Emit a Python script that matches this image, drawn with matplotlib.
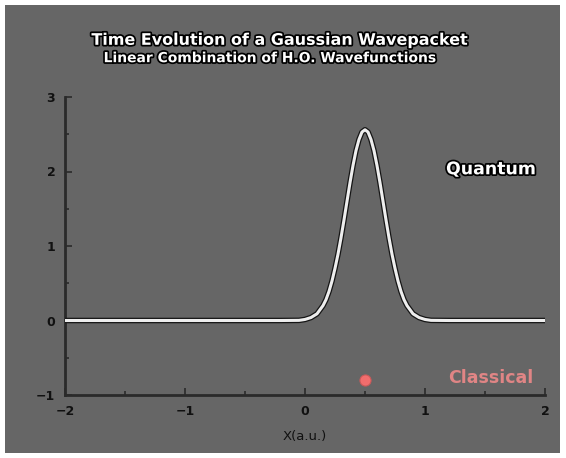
import matplotlib
matplotlib.use("Agg")
import matplotlib.pyplot as plt
import matplotlib.patheffects as pe
from matplotlib.patches import Rectangle

# ---------- Data ----------
x_pts = [-2.0, -0.2, -0.05, 0.0, 0.05, 0.1, 0.15, 0.175, 0.2, 0.225, 0.25,
         0.275, 0.3, 0.325, 0.35, 0.375, 0.4, 0.425, 0.45, 0.475, 0.5,
         0.525, 0.55, 0.575, 0.6, 0.625, 0.65, 0.675, 0.7, 0.725, 0.75,
         0.775, 0.8, 0.825, 0.85, 0.9, 0.95, 1.0, 1.05, 1.2, 2.0]
psi2 = [0.0, 0.0, 0.002, 0.014, 0.04, 0.09, 0.20, 0.28, 0.39, 0.53, 0.70,
        0.89, 1.11, 1.35, 1.60, 1.85, 2.08, 2.28, 2.43, 2.53, 2.56,
        2.53, 2.43, 2.28, 2.08, 1.85, 1.60, 1.35, 1.11, 0.89, 0.70,
        0.53, 0.39, 0.28, 0.20, 0.09, 0.04, 0.014, 0.002, 0.0, 0.0]

classical_x = [0.5]
classical_y = [-0.80]

x_ticks = [-2, -1, 0, 1, 2]
x_ticklabels = ["\u22122", "\u22121", "0", "1", "2"]
y_ticks = [-1, 0, 1, 2, 3]
y_ticklabels = ["\u22121", "0", "1", "2", "3"]

title = "Time Evolution of a Gaussian Wavepacket"
subtitle = "Linear Combination of H.O. Wavefunctions"

BG = "#666666"
DARK = "#2a2a2a"
outline = [pe.withStroke(linewidth=2.5, foreground="black")]

W, H = 566, 458
fig = plt.figure(figsize=(W / 100, H / 100), dpi=100)
fig.patch.set_facecolor("white")
fig.patches.append(Rectangle((5 / W, 5 / H), 555 / W, 448 / H,
                             transform=fig.transFigure, facecolor=BG,
                             edgecolor="none", zorder=-10))

ax = fig.add_axes([65 / W, 63 / H, 480 / W, 298 / H])
ax.set_facecolor("none")

# quantum wavepacket: white line with dark outline
ax.plot(x_pts, psi2, color="#eeeeee", lw=2.2, solid_capstyle="butt",
        path_effects=[pe.Stroke(linewidth=4.0, foreground="#151515"), pe.Normal()],
        zorder=3)

# classical particle
ax.plot(classical_x, classical_y, "o", color="#f26d6d", markersize=8,
        markeredgecolor="#c85a5a", markeredgewidth=0.8, zorder=4)

ax.set_xlim(-2, 2)
ax.set_ylim(-1, 3)

for s in ["top", "right"]:
    ax.spines[s].set_visible(False)
for s in ["left", "bottom"]:
    ax.spines[s].set_color(DARK)
    ax.spines[s].set_linewidth(2)

ax.set_xticks(x_ticks)
ax.set_xticklabels(x_ticklabels, fontweight="bold")
ax.set_yticks(y_ticks)
ax.set_yticklabels(y_ticklabels, fontweight="bold")
ax.set_xticks([-1.5, -0.5, 0.5, 1.5], minor=True)
ax.set_yticks([-0.5, 0.5, 1.5, 2.5], minor=True)
ax.tick_params(which="both", direction="in", colors=DARK, labelcolor="#111111",
               labelsize=9)
ax.tick_params(which="major", length=5, width=1.2, pad=7)
ax.tick_params(which="minor", length=3, width=1.2)

ax.set_xlabel("X(a.u.)", color="#111111", fontsize=9.5, labelpad=9)

fig.text(0.495, 0.912, title, ha="center", va="center", color="white",
         fontsize=11.5, fontweight="bold", path_effects=outline)
fig.text(0.477, 0.873, subtitle, ha="center", va="center", color="white",
         fontsize=10, fontweight="bold", path_effects=outline)

ax.text(1.55, 2.03, "Quantum", ha="center", va="center", color="white",
        fontsize=12.5, fontweight="bold", path_effects=outline)
ax.text(1.55, -0.77, "Classical", ha="center", va="center", color="#e08585",
        fontsize=12.5, fontweight="bold")

fig.savefig("out.png", dpi=100, facecolor=fig.get_facecolor())
